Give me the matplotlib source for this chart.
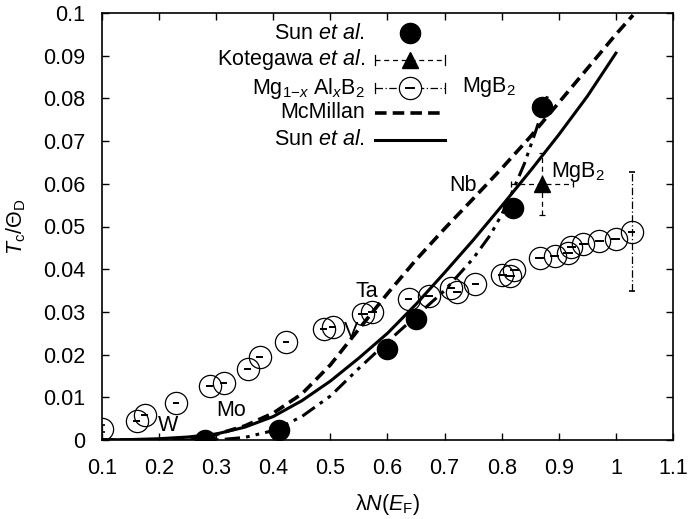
import matplotlib
matplotlib.use("Agg")
import matplotlib.pyplot as plt
from matplotlib.lines import Line2D

plt.rcParams['font.family'] = ['Liberation Sans', 'DejaVu Sans']
plt.rcParams['mathtext.fontset'] = 'custom'
plt.rcParams['mathtext.rm'] = 'Liberation Sans'
plt.rcParams['mathtext.it'] = 'Liberation Sans:italic'
plt.rcParams['mathtext.bf'] = 'Liberation Sans:bold'

# ---------------- data ----------------
sun_x = [0.28, 0.41, 0.60, 0.65, 0.82, 0.87]
sun_y = [0.0000, 0.0024, 0.0213, 0.0283, 0.0543, 0.0780]

kot_x = [0.870]
kot_y = [0.0600]
kot_xerr = [0.054]
kot_yerr = [0.0073]

mg_x = [0.100, 0.161, 0.175, 0.229, 0.289, 0.313, 0.355, 0.376, 0.422, 0.488,
        0.504, 0.557, 0.573, 0.637, 0.672, 0.712, 0.722, 0.754, 0.801, 0.815,
        0.822, 0.867, 0.893, 0.916, 0.922, 0.943, 0.971, 1.000, 1.028]
mg_y = [0.0026, 0.0045, 0.0059, 0.0087, 0.0126, 0.0133, 0.0166, 0.0194, 0.0229, 0.0260,
        0.0265, 0.0295, 0.0299, 0.0330, 0.0337, 0.0356, 0.0347, 0.0365, 0.0386, 0.0384,
        0.0398, 0.0426, 0.0431, 0.0437, 0.0451, 0.0459, 0.0466, 0.0470, 0.0488]
mg_xerr = [0.000, 0.006, 0.006, 0.005, 0.006, 0.006, 0.006, 0.006, 0.005, 0.006,
           0.006, 0.008, 0.008, 0.006, 0.007, 0.007, 0.007, 0.006, 0.008, 0.008,
           0.008, 0.008, 0.008, 0.008, 0.008, 0.008, 0.008, 0.008, 0.006]
mg_yerr = [0.0008, 0, 0, 0, 0, 0, 0, 0, 0, 0,
           0, 0, 0, 0, 0, 0, 0, 0, 0, 0,
           0, 0, 0, 0, 0, 0, 0, 0, 0.0140]

mcm_x = [0.10, 0.20, 0.25, 0.30, 0.35, 0.40, 0.45, 0.50, 0.55, 0.60,
         0.65, 0.70, 0.75, 0.80, 0.85, 0.90, 0.95, 1.00, 1.03]
mcm_y = [0.0000, 0.0000, 0.0004, 0.0013, 0.0033, 0.0063, 0.0108, 0.0176, 0.0260, 0.0343,
         0.0422, 0.0495, 0.0565, 0.0636, 0.0710, 0.0790, 0.0870, 0.0950, 0.0995]

fit_x = [0.10, 0.15, 0.20, 0.25, 0.30, 0.35, 0.40, 0.45, 0.50, 0.55,
         0.60, 0.65, 0.70, 0.75, 0.80, 0.85, 0.90, 0.95, 1.00]
fit_y = [0.0000, 0.0001, 0.0003, 0.0007, 0.0014, 0.0030, 0.0055, 0.0092, 0.0138, 0.0192,
         0.0250, 0.0318, 0.0392, 0.0468, 0.0548, 0.0630, 0.0715, 0.0805, 0.0906]

dd_x = [0.10, 0.20, 0.30, 0.35, 0.40, 0.45, 0.50, 0.55, 0.60, 0.65,
        0.70, 0.75, 0.78, 0.80, 0.82, 0.84, 0.86, 0.88]
dd_y = [0.0000, 0.0000, 0.0000, 0.0006, 0.0022, 0.0055, 0.0103, 0.0168, 0.0230, 0.0290,
        0.0350, 0.0425, 0.0480, 0.0528, 0.0585, 0.0648, 0.0725, 0.0805]

x_ticks = [0.1, 0.2, 0.3, 0.4, 0.5, 0.6, 0.7, 0.8, 0.9, 1.0, 1.1]
x_ticklabels = ['0.1', '0.2', '0.3', '0.4', '0.5', '0.6', '0.7', '0.8', '0.9', '1', '1.1']
y_ticks = [0, 0.01, 0.02, 0.03, 0.04, 0.05, 0.06, 0.07, 0.08, 0.09, 0.1]
y_ticklabels = ['0', '0.01', '0.02', '0.03', '0.04', '0.05', '0.06', '0.07', '0.08', '0.09', '0.1']

labels_txt = ['W', 'Mo', 'Ta', 'V', 'Nb']
labels_x = [0.215, 0.3255, 0.563, 0.537, 0.733]
labels_y = [0.0035, 0.0068, 0.0347, 0.0253, 0.0595]

FS = 15.5
DASH = (0, (3.2, 1.7))
DDOT = (0, (5, 2, 1.2, 2, 1.2, 2))
EDASHDOT = (0, (6, 2, 1, 2))

# ---------------- figure ----------------
fig = plt.figure(figsize=(6.9, 5.19), dpi=100)
ax = fig.add_axes([102/690, (519-440)/519, (673-102)/690, (440-13)/519])

ax.plot(mcm_x, mcm_y, color='black', lw=2.6, ls=DASH, zorder=3)
ax.plot(fit_x, fit_y, color='black', lw=2.2, ls='-', zorder=3)
ax.plot(dd_x, dd_y, color='black', lw=2.2, ls=DDOT, zorder=3)

# Mg1-xAlxB2: open circles with short horizontal bars
ax.errorbar(mg_x, mg_y, xerr=mg_xerr, fmt='o', ms=16, mfc='none',
            mec='black', mew=0.9, ecolor='black', elinewidth=1.4, capsize=0, zorder=4)
eb = ax.errorbar(mg_x, mg_y, yerr=mg_yerr, fmt='none', ecolor='black',
                 elinewidth=0.9, capsize=2.5, capthick=1.2, zorder=4)
for lc in eb[2]:
    lc.set_linestyle(EDASHDOT)

eb2 = ax.errorbar(kot_x, kot_y, xerr=kot_xerr, yerr=kot_yerr, fmt='^', ms=12,
                  color='black', ecolor='black', elinewidth=0.9, capsize=2.5,
                  capthick=0.9, zorder=5)
for lc in eb2[2]:
    lc.set_linestyle((0, (4, 3)))

ax.plot(sun_x, sun_y, 'o', color='black', ms=14.5, zorder=6)

for t, xx, yy in zip(labels_txt, labels_x, labels_y):
    ax.text(xx, yy, t, fontsize=FS, ha='center', va='center', zorder=7)
ax.text(0.887, 0.0616, 'MgB$_2$', fontsize=FS, ha='left', va='baseline', zorder=7)
ax.text(0.731, 0.0815, 'MgB$_2$', fontsize=FS, ha='left', va='baseline', zorder=7)

# ---------------- legend (gnuplot style) ----------------
tr = ax.transAxes
xt = 0.4606
xs0, xs1, xc = 0.478, 0.601, 0.539
rows = [0.953, 0.890, 0.824, 0.766, 0.703]
names = [r'Sun $\it{et\ al.}$', r'Kotegawa $\it{et\ al.}$', r'Mg$_{1\mathrm{-}x}$ Al$_x$B$_2$',
         'McMillan', r'Sun $\it{et\ al.}$']
for r, n in zip(rows, names):
    ax.text(xt, r, n, fontsize=FS, ha='right', va='center', transform=tr)
cap = 0.012
ax.add_line(Line2D([xc], [rows[0]], marker='o', ms=14.5, color='black', transform=tr, ls='none'))
ax.add_line(Line2D([xs0, xs1], [rows[1]]*2, color='black', lw=0.9, ls=(0, (4, 3)), transform=tr))
for xe in (xs0, xs1):
    ax.add_line(Line2D([xe, xe], [rows[1]-cap, rows[1]+cap], color='black', lw=0.9, transform=tr))
ax.add_line(Line2D([xc], [rows[1]], marker='^', ms=12, color='black', transform=tr, ls='none'))
ax.add_line(Line2D([xs0, xs1], [rows[2]]*2, color='black', lw=0.9, ls=EDASHDOT, transform=tr))
for xe in (xs0, xs1):
    ax.add_line(Line2D([xe, xe], [rows[2]-cap, rows[2]+cap], color='black', lw=0.9, transform=tr))
ax.add_line(Line2D([xc], [rows[2]], marker='o', ms=16, mfc='white', mec='black', mew=0.9,
                   transform=tr, ls='none'))
ax.add_line(Line2D([xc-0.007, xc+0.007], [rows[2]]*2, color='black', lw=1.4, transform=tr))
ax.add_line(Line2D([xs0, xs1], [rows[3]]*2, color='black', lw=2.6, ls=DASH, transform=tr))
ax.add_line(Line2D([xs0, xs1], [rows[4]]*2, color='black', lw=2.2, transform=tr))

# ---------------- axes ----------------
ax.set_xlim(0.1, 1.1)
ax.set_ylim(0, 0.1)
ax.set_xticks(x_ticks)
ax.set_xticklabels(x_ticklabels)
ax.set_yticks(y_ticks)
ax.set_yticklabels(y_ticklabels)
ax.tick_params(direction='in', length=5, width=1.0, top=True, right=True,
               labelsize=FS, pad=12, colors='black')
ax.tick_params(axis='x', pad=13)
for s in ax.spines.values():
    s.set_linewidth(1.2)
ax.set_xlabel('λ$N$($E_{\\mathrm{F}}$)', fontsize=FS, labelpad=9)
ax.set_ylabel(r'$T_{\mathrm{c}}/\Theta_{\mathrm{D}}$', fontsize=FS, labelpad=11)

fig.savefig('out.png', dpi=100)
